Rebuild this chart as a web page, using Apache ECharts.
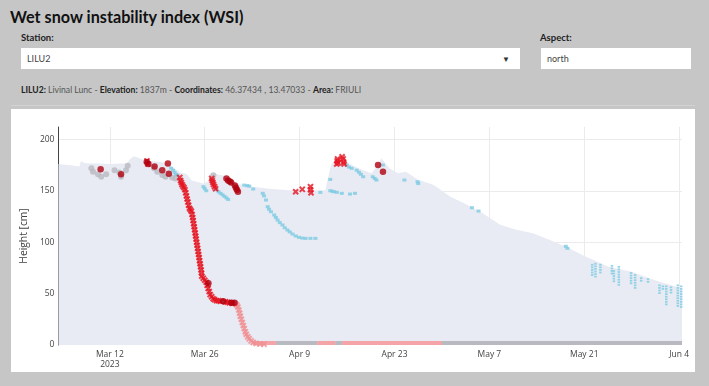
<!DOCTYPE html>
<html><head><meta charset="utf-8">
<script src="https://cdn.jsdelivr.net/npm/echarts@6/dist/echarts.min.js"></script>
<style>
html,body{margin:0;padding:0;background:#c6c6c6;width:709px;height:386px;overflow:hidden;font-family:Lato,'Open Sans',sans-serif;}
#title{position:absolute;left:10px;top:7px;font-weight:700;font-size:16.2px;color:#111;white-space:nowrap;}
.lbl{position:absolute;font-weight:700;font-size:9.5px;color:#222;white-space:nowrap;}
.box{position:absolute;background:#fff;height:21px;font-size:9px;color:#444;line-height:21px;box-sizing:border-box;padding-left:6px;}
#arrow{position:absolute;left:502px;top:54px;font-size:8px;color:#333;}
#info{position:absolute;left:21px;top:85px;font-size:8.6px;color:#555;white-space:nowrap;}
#info b{color:#222;}
#sep{position:absolute;left:11px;top:105px;width:684px;height:1px;background:#d2d2d2;}
#chart{position:absolute;left:11px;top:109px;width:684px;height:263px;background:#fff;}
</style></head>
<body>
<div id="title">Wet snow instability index (WSI)</div>
<div class="lbl" style="left:21px;top:32px">Station:</div>
<div class="box" style="left:21px;top:48px;width:499px">LILU2</div>
<div id="arrow">▼</div>
<div class="lbl" style="left:540px;top:32px">Aspect:</div>
<div class="box" style="left:541px;top:48px;width:150px">north</div>
<div id="info"><b>LILU2:</b> Livinal Lunc - <b>Elevation:</b> 1837m - <b>Coordinates:</b> 46.37434 , 13.47033 - <b>Area:</b> FRIULI</div>
<div id="sep"></div>
<div id="chart"></div>
<script>
// Time is given in days after 2023-03-12 00:00; heights in cm.
const snowDay = [-7.58,-7,-6,-5,-4.5,-4.25,-3.75,-3,-1.5,0,1.5,2.5,3,3.5,4,5,6,7.5,8.5,9.5,10.33,11.38,12.08,13.8,14.5,14.83,15.25,16.5,17.17,18.67,21.08,23.5,25.96,27.83,31.8,32.5,32.8,34.2,35.7,37,38.58,39.58,40.04,41.25,42.5,43.7,45.42,47.8,50.3,52.5,55.08,57.58,60,62.42,64.92,67.3,69.7,70.2,73.58,77,80.42,84.42];
const snowCm  = [176,175.5,175,174,173.5,179,177,176.5,176.5,176,176.5,176.5,181,183.5,182.5,180,179,178,176.5,172,168,166,160,157,159,166,167,165,164,157,154,152,150.7,150,150.5,172,177,180,175,171,167,175,181.5,172,167,168.5,161,155.5,144,137,128,117,112,108.6,102,95.6,87.5,86,76,71.3,63,55];

const grayDay = [-2.73,-2.48,-1.75,-1.27,-0.54,0.69,1.41,1.65,2.38,2.63,6.52,7.0,7.73,8.21,9.19,9.67,15.27];
const grayCm  = [171.8,168.5,166,163.6,166,170,167.8,163.6,170,174.3,171.8,168.5,165.3,163.6,163,162,165];

const blueDay = [9.04,9.33,9.55,9.77,9.99,13.81,14.0,14.22,15.75,16.04,16.33,16.63,16.92,17.21,17.46,19.83,20.27,20.56,21.15,
  22.56,22.75,23.04,23.29,23.48,23.77,24.25,24.5,24.75,25.08,25.48,25.81,26.21,26.54,26.94,27.42,27.9,28.39,28.88,29.6,30.33,
  31.06,32.52,32.81,33.1,33.5,34.23,35.44,36.17,32.52,34.96,35.29,35.69,36.42,36.75,37.04,37.38,38.79,39.08,39.33,40.29,
  43.46,45.4,45.5,53.42,54.4,67.27,67.52];
const blueCm  = [172,170,168,166,165,154,152,150,151,149,147.5,146,144.5,143,141.5,155.5,155,154.5,151.7,
  147.5,145,141,134.5,132,129.6,126.4,124,121.5,119,116.7,114,111.8,110,107.9,106,104.7,104,103.7,103.7,103.7,
  148.4,150,149.5,149,148.5,147.5,146.8,147.5,161,175,173,171.8,170,168,166,163.6,163.6,162,160.4,175,
  160.4,158.8,157,133.5,130.3,96,94];

// late-season blue readings, stacked in columns
const stripDay = [71.17,71.17,71.17,71.17,71.17,71.65,71.65,71.65,71.65,71.65,71.65,72.38,72.38,72.38,72.38,
  74.08,74.08,74.08,74.08,74.37,74.37,74.37,74.37,74.37,75.1,75.1,75.1,75.1,75.1,75.1,75.1,75.1,
  76.9,76.9,76.9,76.9,76.9,77.5,77.5,77.5,77.5,77.5,77.5,78.4,78.4,79.4,79.4,
  81.1,81.1,81.1,81.1,81.6,81.6,82.1,82.1,82.1,82.1,82.1,82.1,82.1,82.1,82.8,82.8,82.8,
  83.8,83.8,83.8,83.8,83.8,83.8,83.8,83.8,83.8,84.3,84.3,84.3,84.3,84.3,84.3,84.3,84.3,84.3];
const stripCm = [78,75.5,73,70.5,68,79,76.5,74,71.5,69,66.5,78,75.5,73,70.5,
  77,74.5,72,69.5,72,69.5,67,64.5,62,76,73.5,71,68.5,66,63.5,61,58.5,
  70,67.5,65,62.5,60,68,65.5,63,60.5,58,55.5,65,62.5,64,61.5,
  58,55.5,53,50.5,57,54.5,57,54.5,52,49.5,47,44.5,42,39.5,56,53.5,51,
  58,55.5,53,50.5,48,45.5,43,40.5,38,57,54.5,52,49.5,47,44.5,42,39.5,37];

const redDay = [10.31,10.43,10.54,10.65,10.79,10.94,11.08,11.2,11.3,11.4,11.52,11.62,11.74,11.89,12.03,12.13,12.22,12.29,12.37,12.44,12.51,12.59,12.66,12.73,12.8,12.88,12.95,13.02,13.1,13.17,13.24,13.31,13.39,13.46,13.53,13.56,13.78,14.0,14.22,14.36,14.51,14.66,14.8,15.02,15.24,15.46,15.75,16.04,16.33,17.06,17.35,17.65,18.08,
  15.02,15.1,15.2,15.3,15.45,15.6,27.42,28.39,29.6,29.6,29.68,33.47,33.54,33.6,33.69,34.27,34.42,34.49,34.56,5.47,5.61];
const redCm  = [163,160,158,156,154.5,153,151,148,145,142,139,136,133,131.5,130,127,124,121,118,115,112,109,106,103,100,97,94,91,88,85,82,79,76,73,70,67,65,63,61,58,55,52,49,47,45,44,43,43,42.5,42,41.5,41,40.5,
  162,160,158,156,154,152,149,151.4,154,151,148,176,179,181,177,183,181,178,176,179,176];

const pinkDay = [18.52,18.74,18.89,19.03,19.15,19.25,19.4,19.54,19.69,19.83,19.98,20.12,20.34,20.56,20.85,21.15,21.58,22.17,22.75];
const pinkCm  = [40,39,37,34,31,28,25,22,19,16,13,10.5,8,6,4,2.5,1.5,1,0.8];

const darkDay = [-1.36,1.65,5.44,5.69,6.6,7.73,8.56,8.7,14.54,16.73,17.94,18.4,17.2,17.45,17.7,17.9,18.45,18.6,18.75,18.9,39.57,40.3];
const darkCm  = [171,166,178,176,173.5,170,176.6,166.5,60,42.5,41,41,162,160,159,158,155,153,151,149,175,168.5];

// runs of markers lying on the ground (0 cm): start/end days
const groundPinkRuns = [[21.1,24.5],[30.6,33.25],[34.27,49.0]];
const groundGrayRuns = [[24.5,30.6],[33.25,34.27],[49.0,84.42]];

const tickDay = [0,14,28,42,56,70,84];
const tickText = ['Mar 12\n2023','Mar 26','Apr 9','Apr 23','May 7','May 21','Jun 4'];

const DAY = 86400000;
const base = Date.UTC(2023,2,12);
const ts = d => base + d*DAY;
const pts = (days, cm) => days.map((d,i)=>[ts(d), cm[i]]);
const tickTs = tickDay.map(ts);

const X = 'path://M0 2.2L2.2 0L5 2.8L7.8 0L10 2.2L7.2 5L10 7.8L7.8 10L5 7.2L2.2 10L0 7.8L2.8 5Z';
const font = "'Open Sans', sans-serif";

function groundSeries(runsArr, color, z){
  return {type:'custom', clip:true, z:z, encode:{x:[0,1]},
    data: runsArr.map(([a,b])=>[ts(a),ts(b)]),
    renderItem:(p,api)=>{
      const s=api.coord([api.value(0),0]), e=api.coord([api.value(1),0]);
      return {type:'rect',shape:{x:s[0],y:s[1]-4,width:e[0]-s[0],height:8},style:{fill:color}};
    }};
}

const chart = echarts.init(document.getElementById('chart'));
chart.setOption({
  animation:false,
  backgroundColor:'#fff',
  grid:{left:39,right:13,top:18,bottom:27},
  xAxis:{type:'value',min:ts(snowDay[0]),max:ts(snowDay[snowDay.length-1]),
    axisLine:{show:false},
    axisTick:{show:false,customValues:tickTs},
    axisLabel:{customValues:tickTs,margin:4,color:'#444',fontSize:8.5,fontFamily:font,lineHeight:10.5,
      formatter:(v)=>{const i=tickTs.indexOf(v);return i>=0?tickText[i]:'';}},
    splitLine:{show:true,lineStyle:{color:'#ebebeb',width:1}}},
  yAxis:{type:'value',min:0,max:212,interval:50,
    name:'Height [cm]',nameLocation:'middle',nameGap:24,
    nameTextStyle:{color:'#444',fontSize:10.3,fontFamily:font},
    axisLine:{show:true,lineStyle:{color:'#444',width:1}},
    axisTick:{show:false},
    axisLabel:{color:'#444',fontSize:8.5,fontFamily:font,margin:4,showMaxLabel:false},
    splitLine:{show:true,showMinLine:false,showMaxLine:false,lineStyle:{color:'#ebebeb',width:1}}},
  series:[
    {name:'HS',type:'line',data:pts(snowDay,snowCm),symbol:'none',lineStyle:{width:0},
      areaStyle:{color:'#e8ebf3',opacity:1},z:1},
    groundSeries(groundGrayRuns,'#b9b9c1',2),
    groundSeries(groundPinkRuns,'#f4a3a6',3),
    {name:'gray',type:'scatter',data:pts(grayDay,grayCm),symbol:'circle',symbolSize:6,
      itemStyle:{color:'#b9b9c1'},z:4},
    {name:'blue',type:'scatter',data:pts(blueDay,blueCm),symbol:'rect',symbolSize:[4,3],
      itemStyle:{color:'#7ccbe2'},z:5},
    {name:'blue strips',type:'scatter',data:pts(stripDay,stripCm),symbol:'rect',symbolSize:[2.5,1.8],
      itemStyle:{color:'#7ccbe2'},z:5},
    {name:'pink',type:'scatter',data:pts(pinkDay,pinkCm),symbol:X,symbolSize:6.5,
      itemStyle:{color:'#f08e92'},z:6},
    {name:'red',type:'scatter',data:pts(redDay,redCm),symbol:X,symbolSize:6.5,
      itemStyle:{color:'#e5131f'},z:7},
    {name:'dark',type:'scatter',data:pts(darkDay,darkCm),symbol:'circle',symbolSize:6.5,
      itemStyle:{color:'#b0000f'},z:8}
  ]
});
</script>
</body></html>
